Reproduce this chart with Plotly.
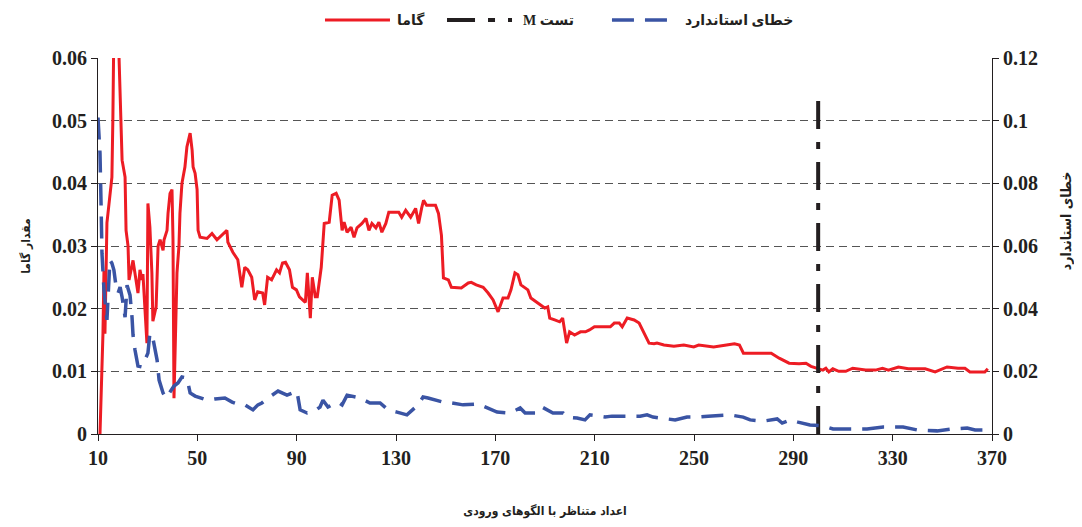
import plotly.graph_objects as go

# ---------------- data ----------------
gamma_x = [10.8, 12.0, 12.4, 12.8, 13.6, 14.8, 15.6, 16.0, 16.4, 18.1, 18.9, 19.3, 19.7, 20.9, 21.3, 22.1,
           22.5, 24.1, 24.9, 26.1, 26.9, 27.7, 28.1, 28.9, 29.7, 30.1, 30.9, 31.7, 32.1, 33.4, 34.2, 35.0,
           36.2, 36.6, 37.8, 38.2, 39.0, 39.8, 40.2, 40.6, 41.8, 42.6, 43.0, 43.8, 45.0, 45.8, 47.1, 47.9,
           48.3, 49.1, 49.9, 50.3, 51.1, 53.9, 55.9, 57.9, 60.3, 61.9, 62.3, 64.3, 66.3, 67.9, 69.1, 70.3,
           71.9, 73.1, 74.3, 76.3, 77.1, 78.3, 79.9, 81.9, 83.1, 84.3, 85.5, 87.1, 88.3, 89.9, 91.1, 93.5,
           94.3, 95.5, 96.3, 97.5, 98.3, 99.9, 101.1, 103.1, 104.3, 105.9, 107.1, 108.3, 109.1, 110.3, 111.9,
           113.1, 114.3, 116.3, 117.9, 119.1, 120.3, 121.9, 123.1, 124.3, 125.9, 127.1, 131.1, 132.3, 133.9,
           135.9, 137.9, 139.1, 140.3, 141.1, 142.3, 145.9, 147.1, 148.3, 149.1, 151.1, 152.3, 156.3, 159.1,
           160.3, 162.3, 165.1, 167.1, 169.1, 171.1, 173.1, 175.1, 176.3, 177.9, 179.1, 180.3, 181.9, 183.1,
           184.3, 187.1, 189.9, 191.1, 191.9, 193.9, 195.9, 197.1, 197.9, 198.7, 199.9, 201.9, 204.3, 206.3,
           207.9, 209.9, 216.3, 217.9, 219.9, 221.1, 223.1, 225.9, 227.9, 229.9, 231.9, 233.9, 235.1, 237.9,
           241.9, 245.9, 249.9, 251.9, 257.9, 263.1, 266.3, 268.3, 269.9, 271.9, 276.3, 281.1, 284.3, 288.3,
           292.3, 295.1, 297.1, 299.1, 301.9, 303.1, 304.3, 305.9, 308.3, 311.1, 313.9, 319.1, 323.1, 325.9,
           328.3, 332.3, 336.3, 343.1, 347.1, 351.9, 356.3, 359.1, 361.1, 364.3, 367.1, 368.3]
gamma_y = [0.0, 0.0161, 0.026, 0.016, 0.0337, 0.0378, 0.041, 0.0506, 0.065, 0.065, 0.054, 0.0469, 0.0437,
           0.041, 0.0325, 0.030, 0.0246, 0.0277, 0.0257, 0.0225, 0.0262, 0.0246, 0.0255, 0.0203, 0.0145,
           0.0368, 0.033, 0.0257, 0.018, 0.0203, 0.030, 0.031, 0.0293, 0.031, 0.0325, 0.0352, 0.0384, 0.039,
           0.031, 0.0057, 0.0257, 0.030, 0.0352, 0.040, 0.0426, 0.0458, 0.048, 0.0453, 0.0426, 0.0416, 0.039,
           0.0325, 0.0314, 0.0312, 0.032, 0.031, 0.032, 0.0325, 0.0306, 0.029, 0.0278, 0.0234, 0.0266, 0.0262,
           0.025, 0.0214, 0.0227, 0.0225, 0.0206, 0.025, 0.0246, 0.0262, 0.0257, 0.0273, 0.0274, 0.0262,
           0.0234, 0.023, 0.0219, 0.021, 0.0257, 0.0185, 0.025, 0.0219, 0.0219, 0.0266, 0.0336, 0.0338,
           0.0381, 0.0384, 0.0373, 0.0325, 0.0338, 0.0322, 0.033, 0.0314, 0.0329, 0.0336, 0.0344, 0.0325,
           0.0336, 0.0329, 0.0338, 0.0322, 0.0336, 0.0354, 0.0354, 0.0346, 0.0357, 0.0346, 0.036, 0.0336,
           0.036, 0.0373, 0.0365, 0.0365, 0.0352, 0.0317, 0.0249, 0.0246, 0.0234, 0.0233, 0.0241, 0.0242,
           0.0238, 0.0234, 0.0225, 0.0214, 0.0195, 0.0217, 0.0217, 0.023, 0.0257, 0.0254, 0.0238, 0.0234,
           0.023, 0.0217, 0.0209, 0.0201, 0.0203, 0.0185, 0.0182, 0.0179, 0.0185, 0.0161, 0.0145, 0.0163,
           0.0158, 0.0163, 0.0163, 0.0166, 0.0171, 0.0171, 0.0177, 0.0177, 0.0171, 0.0185, 0.0182, 0.0177,
           0.0161, 0.0145, 0.0144, 0.0145, 0.0142, 0.014, 0.0142, 0.0139, 0.0142, 0.0139, 0.0142, 0.0144,
           0.0142, 0.0129, 0.0129, 0.0129, 0.0129, 0.0121, 0.0113, 0.0112, 0.0113, 0.0108, 0.0105, 0.0102,
           0.0105, 0.0099, 0.0104, 0.010, 0.010, 0.0105, 0.0102, 0.0102, 0.0105, 0.0102, 0.0107, 0.0104,
           0.0104, 0.0099, 0.0107, 0.0105, 0.0105, 0.0099, 0.0099, 0.0099, 0.0104]

stderr_x = [10.0, 10.8, 11.2, 11.6, 12.4, 13.6, 14.8, 15.6, 16.4, 17.2, 18.1, 18.9, 19.7, 20.9, 21.7, 22.9,
            23.7, 24.1, 24.9, 26.1, 27.7, 28.9, 30.1, 30.9, 32.1, 33.8, 34.6, 36.2, 37.4, 39.0, 40.6, 42.2,
            43.8, 45.8, 47.1, 49.1, 51.9, 53.9, 57.1, 60.3, 61.1, 64.0, 67.2, 69.2, 72.4, 74.4, 76.0, 78.5,
            80.1, 82.5, 86.1, 90.1, 91.4, 94.2, 96.6, 99.4, 100.6, 102.6, 104.2, 106.7, 108.3, 110.3, 115.5,
            119.5, 123.6, 126.8, 130.4, 134.4, 138.9, 140.9, 142.9, 148.9, 152.6, 157.0, 163.0, 166.7, 170.7,
            175.9, 180.0, 182.0, 186.8, 188.8, 190.8, 193.2, 197.3, 198.9, 202.9, 206.1, 208.1, 214.2, 217.0,
            223.0, 228.3, 231.1, 233.5, 236.3, 242.4, 247.2, 251.2, 255.7, 264.5, 269.8, 272.6, 277.8, 283.5,
            285.5, 288.7, 291.9, 296.7, 302.0, 304.8, 306.0, 312.9, 319.7, 326.2, 334.2, 339.8, 347.9, 353.9,
            360.0, 363.2, 370.0]
stderr_y = [0.101, 0.0896, 0.0746, 0.0577, 0.046, 0.0364, 0.0555, 0.0545, 0.0523, 0.0475, 0.045, 0.0469,
            0.0437, 0.0373, 0.0475, 0.0443, 0.0373, 0.0316, 0.0268, 0.0217, 0.0214, 0.0236, 0.0258, 0.0322,
            0.0306, 0.0236, 0.0172, 0.0131, 0.0115, 0.0134, 0.0153, 0.0163, 0.0182, 0.0179, 0.0131, 0.0121,
            0.0115, 0.0108, 0.0112, 0.0115, 0.0115, 0.0102, 0.0093, 0.0093, 0.0077, 0.0093, 0.0099, 0.0115,
            0.0124, 0.0137, 0.0124, 0.0137, 0.0077, 0.0067, 0.007, 0.0086, 0.0108, 0.0086, 0.0093, 0.0102,
            0.0093, 0.0124, 0.0115, 0.0099, 0.0099, 0.0077, 0.007, 0.0061, 0.0093, 0.0118, 0.0115, 0.0102,
            0.0099, 0.0093, 0.0096, 0.0083, 0.007, 0.0067, 0.0083, 0.0067, 0.0067, 0.0086, 0.0077, 0.0067,
            0.0067, 0.0054, 0.0051, 0.0045, 0.0061, 0.0054, 0.0057, 0.0057, 0.0057, 0.0061, 0.0054, 0.0051,
            0.0045, 0.0054, 0.0054, 0.0057, 0.0061, 0.0054, 0.0045, 0.0041, 0.0048, 0.0035, 0.0045, 0.0038,
            0.0029, 0.0026, 0.0019, 0.0016, 0.0016, 0.0016, 0.0022, 0.0022, 0.0013, 0.001, 0.0016, 0.0019,
            0.0013, 0.0013]

m_test_x = [300, 300]
m_test_y = [0.0, 0.0536]

x_tick_vals = [10, 50, 90, 130, 170, 210, 250, 290, 330, 370]

label_gamma = "گاما"
label_m = "M تست"
label_err = "خطای استاندارد"
x_title = "اعداد متناظر با الگوهای ورودی"
y_title = "مقدار گاما"
y2_title = "خطای استاندارد"

# ---------------- styling ----------------
RED = "#ed1c24"
BLUE = "#3a54a4"
BLACK = "#231f20"
DASH_ERR = "22px,11px"
DASH_M = "28px,13px,7px,13px"
num_font = dict(family="Liberation Serif, Times New Roman, serif", size=20, color="#231f20", weight="bold")
fa_font = "Liberation Serif, DejaVu Sans, sans-serif"
title_family = "DejaVu Sans Condensed, DejaVu Sans, sans-serif"
title_font = dict(family=title_family, size=12, color="#231f20", weight="bold")
legend_font = dict(family=fa_font, size=14, color="#231f20", weight="bold")

fig = go.Figure()
fig.add_trace(go.Scatter(x=stderr_x, y=stderr_y, name=label_err, mode="lines", yaxis="y2",
                         line=dict(color=BLUE, width=3.5, dash=DASH_ERR)))
fig.add_trace(go.Scatter(x=gamma_x, y=gamma_y, name=label_gamma, mode="lines",
                         line=dict(color=RED, width=3)))
fig.add_trace(go.Scatter(x=m_test_x, y=m_test_y, name=label_m, mode="lines",
                         line=dict(color=BLACK, width=4, dash=DASH_M)))

# legend drawn by hand (long symbol samples like the original)
legend_items = [
    (label_gamma, RED, 3, "solid", 0.2539, 0.3266, 0.3322),
    (label_m, BLACK, 4, DASH_M, 0.3904, 0.4631, 0.4732),
    (label_err, BLUE, 3.5, DASH_ERR, 0.5749, 0.6421, 0.6544),
]
LEG_Y = 1.101
for text, color, w, dash, x0, x1, xt in legend_items:
    fig.add_shape(type="line", xref="paper", yref="paper", x0=x0, x1=x1, y0=LEG_Y, y1=LEG_Y,
                  line=dict(color=color, width=w, dash=dash))
    fig.add_annotation(xref="paper", yref="paper", x=xt, y=LEG_Y, xanchor="left", yanchor="middle",
                       text=text, showarrow=False, font=legend_font)

# right-hand axis title (sits above the axis centre in the original)
fig.add_annotation(xref="paper", yref="paper", x=1.0828, y=0.566, xanchor="center", yanchor="middle",
                   text=y2_title, textangle=-90, showarrow=False,
                   font=dict(family=title_family, size=14, color="#231f20", weight="bold"))

fig.update_layout(
    width=1074, height=511,
    margin=dict(l=90, r=90, t=50, b=85, autoexpand=False),
    paper_bgcolor="white", plot_bgcolor="white",
    font=dict(family=fa_font, color="#231f20"),
    showlegend=False,
    xaxis=dict(range=[10, 370], tickvals=x_tick_vals, showgrid=False, zeroline=False,
               showline=True, linecolor="#231f20", linewidth=1.2, mirror=False,
               ticks="outside", ticklen=6, tickcolor="#231f20",
               tickfont=num_font,
               title=dict(text=x_title, standoff=38, font=title_font)),
    yaxis=dict(range=[0, 0.06], dtick=0.01, showgrid=True, gridcolor="#555555", gridwidth=1,
               griddash="8px,5px", zeroline=False, showline=True, linecolor="#231f20",
               linewidth=1.2, ticks="outside", ticklen=6, tickcolor="#231f20",
               tickfont=num_font,
               title=dict(text=y_title, standoff=18, font=title_font)),
    yaxis2=dict(range=[0, 0.12], dtick=0.02, overlaying="y", side="right", showgrid=False,
                zeroline=False, showline=True, linecolor="#231f20", linewidth=1.2,
                ticks="outside", ticklen=6, tickcolor="#231f20",
                tickfont=num_font),
)

fig.write_html("out.html")
